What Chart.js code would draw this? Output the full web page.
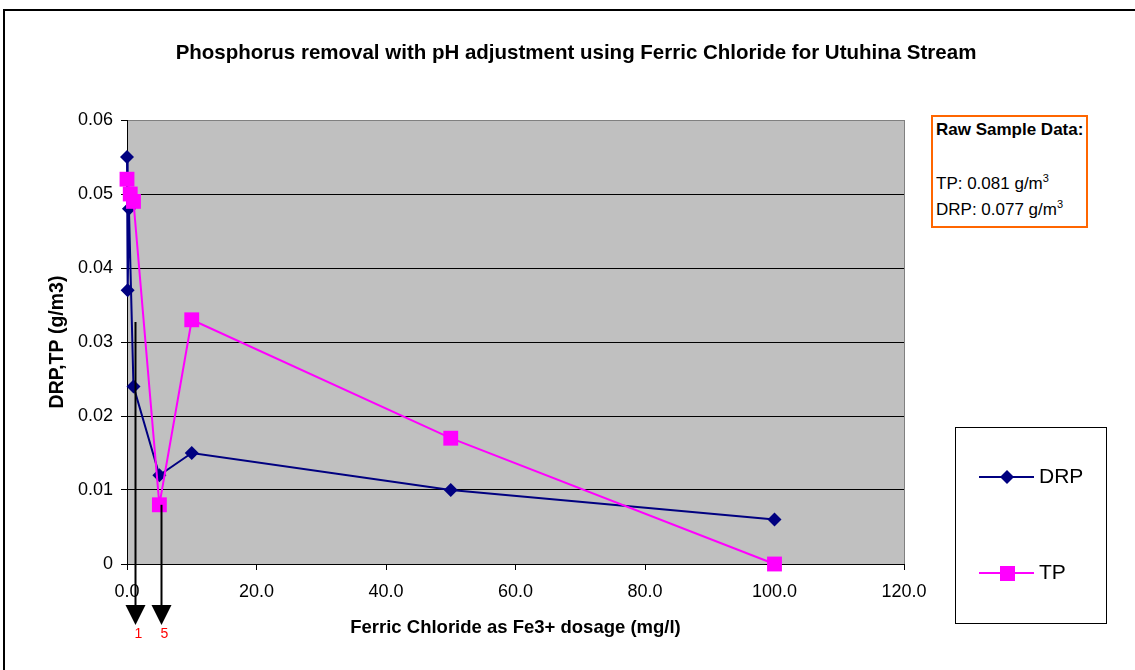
<!DOCTYPE html>
<html>
<head>
<meta charset="utf-8">
<script src="https://cdn.jsdelivr.net/npm/chart.js@4.4.0/dist/chart.umd.min.js"></script>
<style>
body{margin:0;background:#fff;}
#wrap{position:relative;width:1135px;height:670px;overflow:hidden;}
#rawBox{position:absolute;left:931px;top:115px;width:153px;height:109px;border:2px solid #FF6600;background:#fff;
font-family:"Liberation Sans",Arial,sans-serif;font-size:17px;color:#000;box-sizing:content-box;white-space:nowrap;}
#rawBox .t{position:absolute;left:3px;top:3px;font-weight:bold;}
#rawBox .l1{position:absolute;left:3px;top:57px;}
#rawBox .l2{position:absolute;left:3px;top:83px;}
sup{font-size:11px;vertical-align:7px;line-height:0;}
</style>
</head>
<body>
<div id="wrap">
<canvas id="myChart" width="1135" height="670"></canvas>
<div id="rawBox">
<div class="t">Raw Sample Data:</div>
<div class="l1">TP: 0.081 g/m<sup>3</sup></div>
<div class="l2">DRP: 0.077 g/m<sup>3</sup></div>
</div>
</div>
<script>
// dosage (mg/l) and results (g/m3)
const drpDose = [0, 0.1, 0.3, 1, 5, 10, 50, 100];
const drpValues = [0.055, 0.037, 0.048, 0.024, 0.012, 0.015, 0.010, 0.006];
const tpDose = [0, 0.5, 1, 5, 10, 50, 100];
const tpValues = [0.052, 0.050, 0.049, 0.008, 0.033, 0.017, 0];

// hand drawn arrows under the x axis
const arrowDose = [1.3, 5.3];
const arrowTop = [0.0327, 0.008];
const arrowLabels = ["1", "5"];

const chartTitle = "Phosphorus removal with pH adjustment using Ferric Chloride for Utuhina Stream";
const xTitle = "Ferric Chloride as Fe3+ dosage (mg/l)";
const yTitle = "DRP,TP (g/m3)";

const FONT = '"Liberation Sans", Arial, sans-serif';
Chart.defaults.font.family = FONT;

function pts(xs, ys){
  return xs.map(function(x,i){ return {x:x, y:ys[i]}; });
}

function diamond(ctx,x,y,r,col){
  ctx.fillStyle=col;
  ctx.beginPath();
  ctx.moveTo(x,y-r);ctx.lineTo(x+r,y);ctx.lineTo(x,y+r);ctx.lineTo(x-r,y);
  ctx.closePath();ctx.fill();
}

const extras = {
  id:"extras",
  beforeDraw(chart){
    const ctx=chart.ctx, a=chart.chartArea;
    ctx.save();
    ctx.fillStyle="#fff";
    ctx.fillRect(0,0,chart.width,chart.height);
    ctx.fillStyle="#C0C0C0";
    ctx.fillRect(a.left,a.top,a.right-a.left,a.bottom-a.top);
    ctx.restore();
  },
  afterDraw(chart){
    const ctx=chart.ctx, a=chart.chartArea;
    const xs=chart.scales.x, ys=chart.scales.y;
    ctx.save();
    // plot area right border
    ctx.strokeStyle="#808080";ctx.lineWidth=1;
    ctx.beginPath();ctx.moveTo(Math.round(a.right)+0.5,a.top);ctx.lineTo(Math.round(a.right)+0.5,a.bottom);ctx.stroke();
    // outer frame
    ctx.strokeStyle="#000";ctx.lineWidth=2;
    ctx.strokeRect(4,10,1200,700);

    // titles
    ctx.fillStyle="#000";
    ctx.textAlign="center";ctx.textBaseline="middle";
    ctx.font="bold 20.5px "+FONT;
    ctx.fillText(chartTitle,576,53);
    ctx.font="bold 18.5px "+FONT;
    ctx.fillText(xTitle,(a.left+a.right)/2,628);
    ctx.save();
    ctx.translate(58,(a.top+a.bottom)/2);
    ctx.rotate(-Math.PI/2);
    ctx.font="bold 19.5px "+FONT;
    ctx.fillText(yTitle,0,0);
    ctx.restore();

    // arrows
    for(let i=0;i<arrowDose.length;i++){
      const x=Math.round(xs.getPixelForValue(arrowDose[i]))+0.5;
      const y0=ys.getPixelForValue(arrowTop[i]);
      ctx.strokeStyle="#000";ctx.lineWidth=2;
      ctx.beginPath();ctx.moveTo(x,y0);ctx.lineTo(x,610);ctx.stroke();
      ctx.fillStyle="#000";
      ctx.beginPath();ctx.moveTo(x-10,605);ctx.lineTo(x+10,605);ctx.lineTo(x,625);ctx.closePath();ctx.fill();
      ctx.fillStyle="#FF0000";
      ctx.font="14px "+FONT;
      ctx.fillText(arrowLabels[i],x+3,634);
    }

    // legend
    ctx.strokeStyle="#000";ctx.lineWidth=1;
    ctx.strokeRect(955.5,427.5,151,196);
    ctx.font="21px "+FONT;ctx.textAlign="left";
    ctx.lineWidth=2;
    ctx.strokeStyle="#000080";
    ctx.beginPath();ctx.moveTo(979,477);ctx.lineTo(1034,477);ctx.stroke();
    diamond(ctx,1007,477,7,"#000080");
    ctx.fillStyle="#000";ctx.fillText("DRP",1039,477);
    ctx.strokeStyle="#FF00FF";
    ctx.beginPath();ctx.moveTo(979,573);ctx.lineTo(1034,573);ctx.stroke();
    ctx.fillStyle="#FF00FF";ctx.fillRect(1000,566,15,15);
    ctx.fillStyle="#000";ctx.fillText("TP",1039,573);
    ctx.restore();
  }
};

new Chart("myChart",{
  type:"line",
  data:{
    datasets:[{
      label:"DRP",
      data:pts(drpDose,drpValues),
      borderColor:"#000080",
      backgroundColor:"#000080",
      borderWidth:2,
      pointStyle:"rectRot",
      pointRadius:7,
      pointBorderWidth:0,
      clip:false,
      order:1
    },{
      label:"TP",
      data:pts(tpDose,tpValues),
      borderColor:"#FF00FF",
      backgroundColor:"#FF00FF",
      borderWidth:2,
      pointStyle:"rect",
      pointRadius:10.5,
      pointBorderWidth:0,
      clip:false,
      order:0
    }]
  },
  options:{
    responsive:false,
    animation:false,
    devicePixelRatio:1,
    layout:{padding:{left:0,top:120,right:231,bottom:0}},
    plugins:{legend:{display:false},title:{display:false},tooltip:{enabled:false}},
    scales:{
      x:{
        type:"linear",min:0,max:120,
        ticks:{stepSize:20,color:"#000",font:{size:18},padding:11,maxRotation:0,
          callback:function(v){return Number(v).toFixed(1);}},
        grid:{drawOnChartArea:false,drawTicks:true,tickLength:6,color:"#000"},
        border:{color:"#000",width:1},
        afterFit:function(s){s.height=106;}
      },
      y:{
        min:0,max:0.06,
        ticks:{stepSize:0.01,color:"#000",font:{size:18},padding:8,
          callback:function(v){return Math.abs(v)<1e-9?"0":Number(v).toFixed(2);}},
        grid:{color:function(c){return c.index===6?"#808080":"#000";},tickColor:"#000",tickLength:6},
        border:{color:"#000",width:1},
        afterFit:function(s){s.width=127;}
      }
    }
  },
  plugins:[extras]
});
</script>
</body>
</html>
